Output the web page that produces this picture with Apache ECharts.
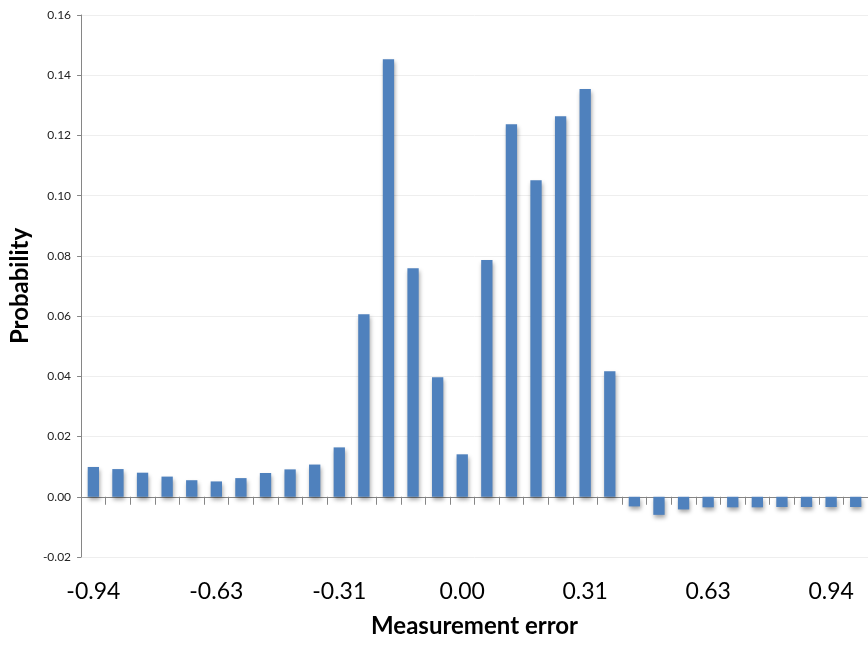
<!DOCTYPE html>
<html>
<head>
<meta charset="utf-8">
<script src="https://cdn.jsdelivr.net/npm/echarts@6/dist/echarts.min.js"></script>
<style>
html,body{margin:0;padding:0;background:#fff;}
#chart{width:868px;height:646px;}
</style>
</head>
<body>
<div id="chart"></div>
<script>
// Category centres (measurement error)
var categories = [-0.9375,-0.875,-0.8125,-0.75,-0.6875,-0.625,-0.5625,-0.5,-0.4375,-0.375,-0.3125,-0.25,-0.1875,-0.125,-0.0625,0,0.0625,0.125,0.1875,0.25,0.3125,0.375,0.4375,0.5,0.5625,0.625,0.6875,0.75,0.8125,0.875,0.9375,1.0];
// Probability values
var probability = [0.0099,0.0092,0.0080,0.0067,0.0055,0.0051,0.0062,0.0079,0.0091,0.0107,0.0164,0.0606,0.1453,0.0759,0.0397,0.0141,0.0786,0.1237,0.1051,0.1264,0.1354,0.0417,-0.0032,-0.0060,-0.0042,-0.0035,-0.0035,-0.0035,-0.0034,-0.0034,-0.0034,-0.0034];
var yTicks = {min:-0.02, max:0.16, interval:0.02};
var xTitle = 'Measurement error';
var yTitle = 'Probability';

var catLabels = categories.map(function(v){ return v.toFixed(2); });
var FONT = 'Lato, "Open Sans", sans-serif';

var chart = echarts.init(document.getElementById('chart'));
chart.setOption({
  animation:false,
  backgroundColor:'#ffffff',
  grid:{left:81, top:15, right:-4, bottom:89, containLabel:false},
  xAxis:[{
    type:'category',
    data:catLabels,
    position:'bottom',
    axisLine:{show:true, onZero:true, lineStyle:{color:'#868686', width:1}},
    axisTick:{show:true, alignWithLabel:false, interval:0, length:8, lineStyle:{color:'#868686'}},
    axisLabel:{show:false},
    splitLine:{show:false}
  },{
    type:'category',
    data:catLabels,
    position:'bottom',
    axisLine:{show:false, onZero:false},
    axisTick:{show:false},
    axisLabel:{show:true, interval:4, margin:23, fontSize:23, color:'#000', fontFamily:FONT},
    splitLine:{show:false},
    name:xTitle,
    nameLocation:'middle',
    nameGap:57,
    nameTextStyle:{fontSize:24, fontWeight:'bold', color:'#000', fontFamily:FONT}
  }],
  yAxis:{
    type:'value',
    min:yTicks.min, max:yTicks.max, interval:yTicks.interval,
    axisLine:{show:true, lineStyle:{color:'#868686'}},
    axisTick:{show:true, length:4, lineStyle:{color:'#868686'}},
    axisLabel:{fontSize:12, color:'#222', margin:10, fontFamily:FONT,
      formatter:function(v){ return v.toFixed(2); }},
    splitLine:{show:true, lineStyle:{color:'#eeeeee', width:1}},
    name:yTitle,
    nameLocation:'middle',
    nameGap:46,
    nameTextStyle:{fontSize:24, fontWeight:'bold', color:'#000', fontFamily:FONT}
  },
  series:[{
    type:'bar',
    xAxisIndex:0,
    data:probability,
    barWidth:'46%',
    itemStyle:{color:'#4F81BD', shadowColor:'rgba(0,0,0,0.35)', shadowBlur:4, shadowOffsetX:1, shadowOffsetY:3}
  }]
});
</script>
</body>
</html>
